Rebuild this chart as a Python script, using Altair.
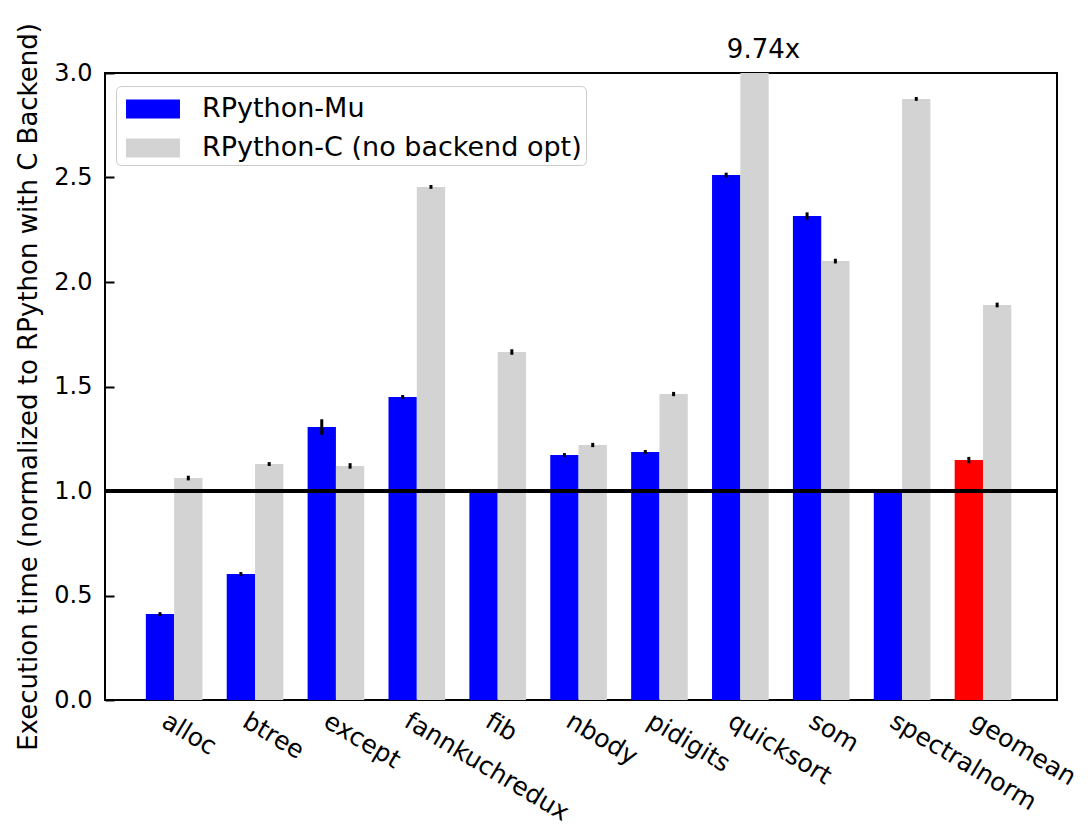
import altair as alt
import pandas as pd

benchmarks = ["alloc", "btree", "except", "fannkuchredux", "fib", "nbody",
              "pidigits", "quicksort", "som", "spectralnorm", "geomean"]
mu_vals = [0.411, 0.603, 1.306, 1.450, 1.000, 1.172, 1.187, 2.512, 2.316, 1.000, 1.148]
mu_err = [0.002, 0.002, 0.030, 0.002, 0.002, 0.002, 0.002, 0.004, 0.010, 0.002, 0.008]
c_vals = [1.062, 1.129, 1.120, 2.455, 1.665, 1.220, 1.464, 9.74, 2.100, 2.876, 1.890]
c_err = [0.004, 0.002, 0.006, 0.002, 0.006, 0.003, 0.003, 0.0, 0.004, 0.002, 0.004]
series_names = ["RPython-Mu", "RPython-C (no backend opt)"]
color_keys = ["RPython-Mu", "RPython-C (no backend opt)", "geomean"]
color_range = ["#0000ff", "#d3d3d3", "#ff0000"]
y_ticks = [0.0, 0.5, 1.0, 1.5, 2.0, 2.5, 3.0]

rows = []
for i, b in enumerate(benchmarks):
    rows.append(dict(bench=b, idx=i, off=0, series=series_names[0],
                     key="geomean" if b == "geomean" else series_names[0],
                     value=mu_vals[i], err=mu_err[i]))
    rows.append(dict(bench=b, idx=i, off=1, series=series_names[1],
                     key=series_names[1], value=c_vals[i], err=c_err[i]))
df = pd.DataFrame(rows)

FONT = "DejaVu Sans"
label_expr = "[" + ",".join("'%s'" % b for b in benchmarks) + "][datum.value]"

xscale = alt.Scale(domain=[-0.68, 11.09], nice=False, zero=False)
yscale = alt.Scale(domain=[0, 3], nice=False, zero=True)

base = alt.Chart(df).transform_calculate(
    xc="datum.idx + datum.off * 0.35",
    x0="datum.idx + datum.off * 0.35 - 0.175",
    x1="datum.idx + datum.off * 0.35 + 0.175",
    lo="datum.value - datum.err",
    hi="datum.value + datum.err",
)

bars = base.mark_bar(clip=True).encode(
    x=alt.X("x0:Q", scale=xscale,
            axis=alt.Axis(values=list(range(len(benchmarks))), labelExpr=label_expr,
                          offset=-8, tickSize=8, tickWidth=2, tickColor="black",
                          domain=False, grid=False, title=None,
                          labelAngle=31, labelAlign="left", labelBaseline="top",
                          labelPadding=8, labelOffset=10, labelFontSize=25,
                          labelFont=FONT, labelColor="black", labelLimit=500,
                          labelOverlap=False, labelBound=False, labelFlush=False)),
    x2="x1:Q",
    y=alt.Y("value:Q", scale=yscale,
            axis=alt.Axis(values=y_ticks, format=".1f",
                          offset=-9, tickSize=9, tickWidth=2, tickColor="black",
                          domain=False, grid=False,
                          title="Execution time (normalized to RPython with C Backend)",
                          titleFontSize=26, titleFont=FONT, titleFontWeight="normal",
                          titleColor="black", titlePadding=12, titleLimit=900,
                          labelPadding=13, labelFontSize=24, labelFont=FONT,
                          labelColor="black")),
    y2=alt.datum(0),
    color=alt.Color("key:N",
                    scale=alt.Scale(domain=color_keys, range=color_range),
                    legend=alt.Legend(values=series_names, title=None, orient="none",
                                      legendX=11, legendY=13,
                                      strokeColor="#cccccc", fillColor="white",
                                      cornerRadius=5, padding=4,
                                      symbolType="M-1.42,-0.5H1.42V0.5H-1.42Z",
                                      symbolSize=1444, symbolStrokeWidth=0,
                                      symbolOffset=14,
                                      labelFontSize=27, labelFont=FONT,
                                      labelColor="black", labelOffset=30,
                                      rowPadding=7, labelLimit=600)),
)

errs = base.transform_filter("datum.value <= 3").mark_rule(
    color="black", strokeWidth=3, strokeCap="square", clip=True
).encode(
    x=alt.X("xc:Q", scale=xscale),
    y=alt.Y("lo:Q", scale=yscale),
    y2="hi:Q",
)

one_line = alt.Chart(df).mark_rule(color="black", strokeWidth=4).encode(
    y=alt.Y(datum=1.0, scale=yscale)
)

annot = base.transform_filter("datum.value > 3").transform_calculate(
    lbl="format(datum.value, '.2f') + 'x'"
).mark_text(baseline="bottom", dy=-10, dx=9, fontSize=26, font=FONT,
            color="black").encode(
    x=alt.X("xc:Q", scale=xscale),
    y=alt.Y(datum=3.0, scale=yscale),
    text="lbl:N",
)

chart = alt.layer(bars, errs, one_line, annot).properties(
    width=952, height=627,
    autosize=alt.AutoSizeParams(type="none"),
    padding={"left": 105, "top": 73, "right": 33, "bottom": 126},
).configure(background="white").configure_view(stroke="black", strokeWidth=2)

chart.save("out.html", embed_options={"renderer": "svg", "actions": False})
